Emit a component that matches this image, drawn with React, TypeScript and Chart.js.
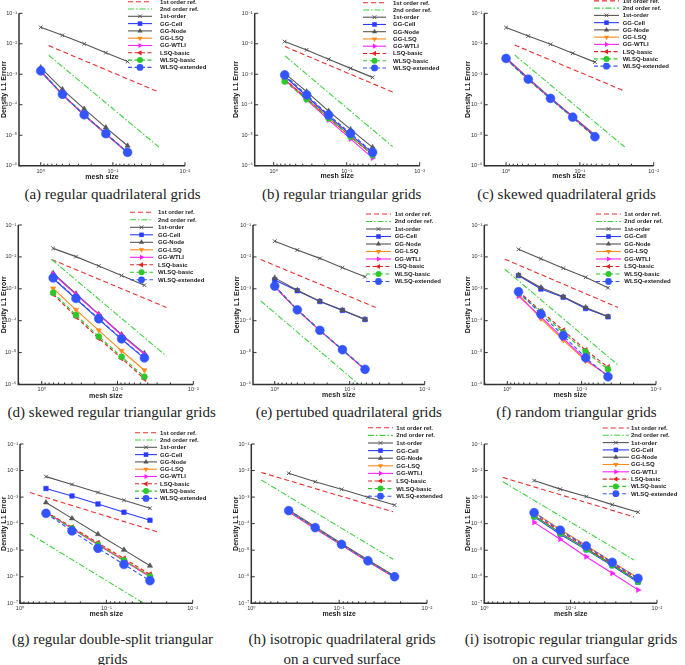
import React, { useEffect, useRef } from 'react';
import { Chart, registerables } from 'chart.js';

Chart.register(...registerables);

// ---------------- data ----------------
const seriesLabels = ['1st order ref.', '2nd order ref.', '1st-order', 'GG-Cell', 'GG-Node', 'GG-LSQ', 'GG-WTLI', 'LSQ-basic', 'WLSQ-basic', 'WLSQ-extended'];

const xQuad = [1, 0.5, 0.25, 0.125, 0.0625];
const xTri = [0.7071, 0.3536, 0.1768, 0.0884, 0.0442];
const xDouble = [0.5, 0.25, 0.125, 0.0625, 0.03125];
const xCurvedQuad = [0.375, 0.1875, 0.094, 0.047, 0.0234];
const xCurvedTri = [0.265, 0.132, 0.066, 0.033, 0.0166];

// (a)
const aRef1X = [0.775, 0.023]; const aRef1Y = [8.7e-3, 2.6e-4];
const aRef2X = [0.775, 0.023]; const aRef2Y = [4.2e-3, 4.1e-6];
const aFirstOrder = [3.46e-2, 1.9e-2, 1.0e-2, 5.1e-3, 2.6e-3];
const aGgCell = [1.29e-3, 2.2e-4, 4.7e-5, 1.12e-5, 2.75e-6];
const aGgNode = [1.66e-3, 3.2e-4, 7.3e-5, 1.78e-5, 4.5e-6];
const aGgLsq = [1.25e-3, 2.15e-4, 4.6e-5, 1.1e-5, 2.7e-6];
const aGgWtli = [1.22e-3, 2.1e-4, 4.5e-5, 1.08e-5, 2.65e-6];
const aLsqBasic = [1.25e-3, 2.15e-4, 4.6e-5, 1.1e-5, 2.7e-6];
const aWlsqBasic = [1.27e-3, 2.18e-4, 4.65e-5, 1.11e-5, 2.72e-6];
const aWlsqExt = [1.29e-3, 2.2e-4, 4.7e-5, 1.12e-5, 2.75e-6];

// (b)
const bRef1X = [0.70, 0.0234]; const bRef1Y = [8.1e-3, 2.6e-4];
const bRef2X = [0.70, 0.0234]; const bRef2Y = [4.0e-3, 4.2e-6];
const bFirstOrder = [1.18e-2, 6.3e-3, 3.1e-3, 1.56e-3, 7.9e-4];
const bGgCell = [8.6e-4, 1.9e-4, 4.2e-5, 1.05e-5, 2.6e-6];
const bGgNode = [1.07e-3, 2.7e-4, 6.2e-5, 1.55e-5, 4.0e-6];
const bGgLsq = [6.8e-4, 1.6e-4, 3.8e-5, 9.2e-6, 2.3e-6];
const bGgWtli = [6.5e-4, 1.45e-4, 3.2e-5, 7.6e-6, 1.8e-6];
const bLsqBasic = [7.0e-4, 1.6e-4, 3.7e-5, 9.0e-6, 2.3e-6];
const bWlsqBasic = [5.8e-4, 1.5e-4, 3.6e-5, 8.9e-6, 2.2e-6];
const bWlsqExt = [9.5e-4, 2.1e-4, 4.6e-5, 1.15e-5, 2.75e-6];

// (c)
const cRef1X = [0.764, 0.0247]; const cRef1Y = [9.1e-3, 2.8e-4];
const cRef2X = [0.764, 0.0247]; const cRef2Y = [4.3e-3, 4.1e-6];
const cFirstOrder = [3.4e-2, 1.8e-2, 9.6e-3, 4.9e-3, 2.5e-3];
const cGgCell = [3.3e-3, 6.9e-4, 1.62e-4, 3.9e-5, 9.2e-6];
const cGgNode = [3.5e-3, 7.4e-4, 1.7e-4, 4.1e-5, 1.02e-5];
const cGgLsq = [3.25e-3, 6.8e-4, 1.6e-4, 3.85e-5, 9.0e-6];
const cGgWtli = [3.4e-3, 7.1e-4, 1.65e-4, 4.0e-5, 9.5e-6];
const cLsqBasic = [3.2e-3, 6.7e-4, 1.58e-4, 3.8e-5, 8.9e-6];
const cWlsqBasic = [3.1e-3, 6.6e-4, 1.55e-4, 3.75e-5, 8.8e-6];
const cWlsqExt = [3.3e-3, 6.9e-4, 1.62e-4, 3.9e-5, 8.9e-6];

// (d)
const dRef1X = [0.74, 0.0226]; const dRef1Y = [8.3e-3, 2.6e-4];
const dRef2X = [0.74, 0.0226]; const dRef2Y = [8.3e-3, 7.7e-6];
const dFirstOrder = [1.85e-2, 1.02e-2, 5.2e-3, 2.6e-3, 1.3e-3];
const dGgCell = [2.1e-3, 4.8e-4, 1.1e-4, 2.6e-5, 6.6e-6];
const dGgNode = [3.1e-3, 7.0e-4, 1.6e-4, 3.7e-5, 9.5e-6];
const dGgLsq = [1.03e-3, 2.2e-4, 5.0e-5, 1.14e-5, 2.8e-6];
const dGgWtli = [2.9e-3, 6.6e-4, 1.55e-4, 3.5e-5, 8.8e-6];
const dLsqBasic = [6.8e-4, 1.32e-4, 2.8e-5, 6.6e-6, 1.5e-6];
const dWlsqBasic = [7.5e-4, 1.5e-4, 3.2e-5, 7.4e-6, 1.75e-6];
const dWlsqExt = [2.2e-3, 5.0e-4, 1.15e-4, 2.7e-5, 6.8e-6];

// (e)
const eRef1X = [1.54, 0.045]; const eRef1Y = [8.3e-3, 2.6e-4];
const eRef2X = [1.54, 0.0736]; const eRef2Y = [4.2e-4, 9.5e-7];
const eFirstOrder = [3.1e-2, 1.65e-2, 9.0e-3, 4.6e-3, 2.4e-3];
const eGgCell = [1.9e-3, 8.7e-4, 4.0e-4, 2.1e-4, 1.09e-4];
const eGgNode = [2.2e-3, 9.0e-4, 4.1e-4, 2.15e-4, 1.1e-4];
const eGgLsq = [1.2e-3, 2.2e-4, 5.0e-5, 1.22e-5, 3.0e-6];
const eGgWtli = [1.15e-3, 2.15e-4, 4.9e-5, 1.2e-5, 2.95e-6];
const eLsqBasic = [1.2e-3, 2.2e-4, 5.0e-5, 1.22e-5, 3.0e-6];
const eWlsqBasic = [1.18e-3, 2.18e-4, 4.95e-5, 1.21e-5, 2.98e-6];
const eWlsqExt = [1.22e-3, 2.2e-4, 5.0e-5, 1.23e-5, 3.0e-6];

// (f)
const fRef1X = [1.08, 0.0325]; const fRef1Y = [8.5e-3, 2.6e-4];
const fRef2X = [1.08, 0.0325]; const fRef2Y = [4.1e-3, 4.1e-6];
const fFirstOrder = [1.73e-2, 8.8e-3, 4.4e-3, 2.3e-3, 1.08e-3];
const fGgCell = [2.6e-3, 9.8e-4, 5.4e-4, 2.4e-4, 1.32e-4];
const fGgNode = [2.7e-3, 1.1e-3, 5.6e-4, 2.6e-4, 1.35e-4];
const fGgLsq = [6.8e-4, 1.17e-4, 2.45e-5, 5.5e-6, 1.95e-6];
const fGgWtli = [5.9e-4, 1.32e-4, 2.8e-5, 6.0e-6, 1.9e-6];
const fLsqBasic = [8.5e-4, 2.0e-4, 5.0e-5, 1.2e-5, 3.5e-6];
const fWlsqBasic = [7.2e-4, 1.9e-4, 4.2e-5, 1.07e-5, 3.0e-6];
const fWlsqExt = [8.1e-4, 1.62e-4, 3.4e-5, 6.9e-6, 1.75e-6];

// (g)
const gRef1X = [0.766, 0.024]; const gRef1Y = [1.48e-3, 4.6e-5];
const gRef2X = [0.766, 0.037]; const gRef2Y = [4.1e-5, 1.0e-7];
const gFirstOrder = [5.9e-3, 3.0e-3, 1.5e-3, 7.6e-4, 3.8e-4];
const gGgCell = [2.1e-3, 1.1e-3, 5.5e-4, 2.7e-4, 1.35e-4];
const gGgNode = [6.3e-4, 1.58e-4, 4.0e-5, 1.03e-5, 2.6e-6];
const gGgLsq = [2.65e-4, 6.8e-5, 1.7e-5, 4.3e-6, 1.1e-6];
const gGgWtli = [2.7e-4, 6.5e-5, 1.6e-5, 4.0e-6, 1.0e-6];
const gLsqBasic = [2.8e-4, 7.3e-5, 1.9e-5, 4.9e-6, 1.23e-6];
const gWlsqBasic = [2.6e-4, 6.6e-5, 1.58e-5, 4.1e-6, 1.02e-6];
const gWlsqExt = [2.45e-4, 5.3e-5, 1.18e-5, 2.9e-6, 7.1e-7];

// (h)
const hRef1X = [0.77, 0.0243]; const hRef1Y = [8.5e-3, 2.8e-4];
const hRef2X = [0.77, 0.0243]; const hRef2Y = [4.4e-3, 4.6e-6];
const hFirstOrder = [7.9e-3, 3.8e-3, 1.96e-3, 9.8e-4, 5.0e-4];
const hGgCell = [3.1e-4, 7.1e-5, 1.66e-5, 4.0e-6, 1.0e-6];
const hGgNode = [3.3e-4, 7.6e-5, 1.8e-5, 4.3e-6, 1.08e-6];
const hGgLsq = [3.0e-4, 7.0e-5, 1.65e-5, 3.95e-6, 9.9e-7];
const hGgWtli = [2.75e-4, 6.4e-5, 1.52e-5, 3.7e-6, 9.3e-7];
const hLsqBasic = [3.0e-4, 6.9e-5, 1.63e-5, 3.9e-6, 9.8e-7];
const hWlsqBasic = [2.95e-4, 6.8e-5, 1.6e-5, 3.85e-6, 9.6e-7];
const hWlsqExt = [3.1e-4, 7.1e-5, 1.66e-5, 4.0e-6, 1.0e-6];

// (i)
const iRef1X = [0.61, 0.0185]; const iRef1Y = [5.5e-3, 1.8e-4];
const iRef2X = [0.61, 0.0185]; const iRef2Y = [3.8e-3, 4.3e-6];
const iFirstOrder = [4.2e-3, 2.0e-3, 1.05e-3, 5.2e-4, 2.7e-4];
const iGgCell = [1.8e-4, 4.0e-5, 1.03e-5, 2.6e-6, 6.2e-7];
const iGgNode = [2.0e-4, 4.6e-5, 1.15e-5, 2.9e-6, 7.0e-7];
const iGgLsq = [2.7e-4, 6.0e-5, 1.5e-5, 3.6e-6, 9.2e-7];
const iGgWtli = [1.12e-4, 2.6e-5, 5.7e-6, 1.35e-6, 3.2e-7];
const iLsqBasic = [2.2e-4, 5.3e-5, 1.3e-5, 3.2e-6, 8.0e-7];
const iWlsqBasic = [1.85e-4, 4.3e-5, 1.07e-5, 2.7e-6, 6.5e-7];
const iWlsqExt = [2.6e-4, 5.7e-5, 1.44e-5, 3.5e-6, 8.7e-7];

const captions = [
  ['(a) regular quadrilateral grids'],
  ['(b) regular triangular grids'],
  ['(c) skewed quadrilateral grids'],
  ['(d) skewed regular triangular grids'],
  ['(e) pertubed quadrilateral grids'],
  ['(f) random triangular grids'],
  ['(g) regular double-split triangular', 'grids'],
  ['(h) isotropic quadrilateral grids', 'on a curved surface'],
  ['(i) isotropic regular triangular grids', 'on a curved surface'],
];

// ---------------- styles ----------------
const FONT = "'Liberation Sans', 'DejaVu Sans', Arial, sans-serif";
const AXIS = '#333333';

const STYLES = [
  { color: '#e8302e', dash: [5, 3], width: 1.1, point: 'circle', r: 0, rot: 0 },
  { color: '#3fd23f', dash: [6, 2, 1.5, 2], width: 1.1, point: 'circle', r: 0, rot: 0 },
  { color: '#555555', dash: [], width: 1.1, point: 'crossRot', r: 2.6, rot: 0 },
  { color: '#2b3cff', dash: [], width: 1.1, point: 'rect', r: 3.2, rot: 0 },
  { color: '#555555', dash: [], width: 1.1, point: 'triangle', r: 3.0, rot: 0 },
  { color: '#ff8a1c', dash: [], width: 1.1, point: 'triangle', r: 3.0, rot: 180 },
  { color: '#ff22ff', dash: [], width: 1.1, point: 'triangle', r: 3.0, rot: 90 },
  { color: '#e02424', dash: [4, 2.5], width: 1.1, point: 'triangle', r: 3.0, rot: 270 },
  { color: '#2ec82e', dash: [4, 2.5], width: 1.1, point: 'circle', r: 3.0, rot: 0 },
  { color: '#3355ff', dash: [4, 2.5], width: 1.1, point: 'circle', r: 4.4, rot: 0 },
];

type Panel = {
  cx: number; cy: number; axisL: number; axisR: number; top: number; bottom: number;
  titleX: number; xTitleY: number; xMin: number; xMax: number; yMin: number; yMax: number;
  yTitle: string; xs: number[]; refs: number[][]; series: number[][];
  legend: { x0: number; x1: number; tx: number; y0: number; dy: number };
  cap: { x: number; y: number; lines: string[] };
};

const PANELS: Panel[] = [
  { cx: 0, cy: -4, axisL: 19, axisR: 185, top: 13.3, bottom: 165.7, titleX: 4.5, xTitleY: 176.7, xMin: 0.01, xMax: 2.0, yMin: 1e-6, yMax: 1e-1, yTitle: 'Density L1 Errorr',
    xs: xQuad, refs: [aRef1X, aRef1Y, aRef2X, aRef2Y], series: [aFirstOrder, aGgCell, aGgNode, aGgLsq, aGgWtli, aLsqBasic, aWlsqBasic, aWlsqExt],
    legend: { x0: 128, x1: 152, tx: 160, y0: 1.7, dy: 7.3 }, cap: { x: 112.5, y: 194, lines: captions[0] } },
  { cx: 228, cy: -4, axisL: 254.7, axisR: 419.7, top: 13.3, bottom: 165.7, titleX: 236.3, xTitleY: 176.5, xMin: 0.01, xMax: 1.82, yMin: 1e-6, yMax: 1e-1, yTitle: 'Density L1 Errorr',
    xs: xTri, refs: [bRef1X, bRef1Y, bRef2X, bRef2Y], series: [bFirstOrder, bGgCell, bGgNode, bGgLsq, bGgWtli, bLsqBasic, bWlsqBasic, bWlsqExt],
    legend: { x0: 363, x1: 386, tx: 393, y0: 2.7, dy: 7.25 }, cap: { x: 341.7, y: 194, lines: captions[1] } },
  { cx: 456, cy: -4, axisL: 484.3, axisR: 653.7, top: 13.3, bottom: 165.7, titleX: 467.7, xTitleY: 176.5, xMin: 0.01, xMax: 1.97, yMin: 1e-6, yMax: 1e-1, yTitle: 'Density L1 Errorr',
    xs: xQuad, refs: [cRef1X, cRef1Y, cRef2X, cRef2Y], series: [cFirstOrder, cGgCell, cGgNode, cGgLsq, cGgWtli, cLsqBasic, cWlsqBasic, cWlsqExt],
    legend: { x0: 594, x1: 619, tx: 622.7, y0: 0.9, dy: 7.25 }, cap: { x: 566.5, y: 194, lines: captions[2] } },
  { cx: 0, cy: 205, axisL: 18.3, axisR: 193.3, top: 225, bottom: 384.5, titleX: 3.6, xTitleY: 396, xMin: 0.01, xMax: 2.04, yMin: 1e-6, yMax: 1e-1, yTitle: 'Density L1 Errorr',
    xs: xTri, refs: [dRef1X, dRef1Y, dRef2X, dRef2Y], series: [dFirstOrder, dGgCell, dGgNode, dGgLsq, dGgWtli, dLsqBasic, dWlsqBasic, dWlsqExt],
    legend: { x0: 130, x1: 153, tx: 158, y0: 212.3, dy: 7.5 }, cap: { x: 111.7, y: 411.7, lines: captions[3] } },
  { cx: 228, cy: 205, axisL: 253, axisR: 424.7, top: 225, bottom: 384.5, titleX: 237.3, xTitleY: 395.5, xMin: 0.01, xMax: 1.95, yMin: 1e-6, yMax: 1e-1, yTitle: 'Density L1 Errorr',
    xs: xQuad, refs: [eRef1X, eRef1Y, eRef2X, eRef2Y], series: [eFirstOrder, eGgCell, eGgNode, eGgLsq, eGgWtli, eLsqBasic, eWlsqBasic, eWlsqExt],
    legend: { x0: 366, x1: 391, tx: 394.7, y0: 214, dy: 7.5 }, cap: { x: 348.8, y: 411.7, lines: captions[4] } },
  { cx: 456, cy: 205, axisL: 484.3, axisR: 656, top: 225, bottom: 384.5, titleX: 467.7, xTitleY: 395, xMin: 0.01, xMax: 2.04, yMin: 1e-6, yMax: 1e-1, yTitle: 'Density L1 Errorr',
    xs: xTri, refs: [fRef1X, fRef1Y, fRef2X, fRef2Y], series: [fFirstOrder, fGgCell, fGgNode, fGgLsq, fGgWtli, fLsqBasic, fWlsqBasic, fWlsqExt],
    legend: { x0: 596, x1: 621, tx: 624.3, y0: 214, dy: 7.5 }, cap: { x: 576.5, y: 411.7, lines: captions[5] } },
  { cx: 0, cy: 418, axisL: 20, axisR: 192.7, top: 444, bottom: 603.3, titleX: 3.6, xTitleY: 614, xMin: 0.01, xMax: 1, yMin: 1e-7, yMax: 1e-1, yTitle: 'Density L1 Error',
    xs: xDouble, refs: [gRef1X, gRef1Y, gRef2X, gRef2Y], series: [gFirstOrder, gGgCell, gGgNode, gGgLsq, gGgWtli, gLsqBasic, gWlsqBasic, gWlsqExt],
    legend: { x0: 135, x1: 157, tx: 160, y0: 432.7, dy: 7.3 }, cap: { x: 112.5, y: 639, lines: captions[6] } },
  { cx: 228, cy: 418, axisL: 251.3, axisR: 427, top: 444, bottom: 603.3, titleX: 236.3, xTitleY: 614, xMin: 0.01, xMax: 1, yMin: 1e-7, yMax: 1e-1, yTitle: 'Density L1 Error',
    xs: xCurvedQuad, refs: [hRef1X, hRef1Y, hRef2X, hRef2Y], series: [hFirstOrder, hGgCell, hGgNode, hGgLsq, hGgWtli, hLsqBasic, hWlsqBasic, hWlsqExt],
    legend: { x0: 368, x1: 393, tx: 396.3, y0: 427.8, dy: 7.6 }, cap: { x: 342, y: 639, lines: captions[7] } },
  { cx: 456, cy: 418, axisL: 484.3, axisR: 657, top: 444, bottom: 603.3, titleX: 467.7, xTitleY: 614, xMin: 0.01, xMax: 1, yMin: 1e-7, yMax: 1e-1, yTitle: 'Density L1 Error',
    xs: xCurvedTri, refs: [iRef1X, iRef1Y, iRef2X, iRef2Y], series: [iFirstOrder, iGgCell, iGgNode, iGgLsq, iGgWtli, iLsqBasic, iWlsqBasic, iWlsqExt],
    legend: { x0: 602.7, x1: 629, tx: 631, y0: 428, dy: 7.3 }, cap: { x: 571, y: 639, lines: captions[8] } },
];

// ---------------- helpers ----------------
const SUP: Record<string, string> = { '0': '⁰', '1': '¹', '2': '²', '3': '³', '4': '⁴', '5': '⁵', '6': '⁶', '7': '⁷', '8': '⁸', '9': '⁹', '-': '⁻' };
function decadeLabel(v: any) {
  const n = Number(v);
  const l = Math.log10(n);
  if (Math.abs(l - Math.round(l)) > 1e-6) return '';
  return '10' + String(Math.round(l)).split('').map((c) => SUP[c] || c).join('');
}

function drawMarker(ctx: CanvasRenderingContext2D, style: string, x: number, y: number, r: number, rotDeg: number) {
  const rad = (rotDeg * Math.PI) / 180;
  ctx.beginPath();
  if (style === 'circle') {
    ctx.arc(x, y, r, 0, Math.PI * 2);
    ctx.fill();
  } else if (style === 'rect') {
    const s = Math.SQRT1_2 * r;
    ctx.rect(x - s, y - s, 2 * s, 2 * s);
    ctx.fill();
  } else if (style === 'triangle') {
    for (let k = 0; k < 3; k++) {
      const a = rad + (k * 2 * Math.PI) / 3;
      const px = x + Math.sin(a) * r;
      const py = y - Math.cos(a) * r;
      if (k === 0) ctx.moveTo(px, py); else ctx.lineTo(px, py);
    }
    ctx.closePath();
    ctx.fill();
  } else if (style === 'crossRot') {
    const o = r * Math.SQRT1_2;
    ctx.moveTo(x - o, y - o); ctx.lineTo(x + o, y + o);
    ctx.moveTo(x - o, y + o); ctx.lineTo(x + o, y - o);
    ctx.stroke();
  }
}

const legendPlugin = {
  id: 'paperLegend',
  afterDraw(chart: any, _args: any, opts: any) {
    const { ctx } = chart;
    const datasets = chart.data.datasets;
    ctx.save();
    datasets.forEach((ds: any, i: number) => {
      const st = STYLES[i];
      const y = opts.y0 + i * opts.dy - opts.cy;
      const x0 = opts.x0 - opts.cx;
      const x1 = opts.x1 - opts.cx;
      ctx.strokeStyle = ds.borderColor;
      ctx.lineWidth = ds.borderWidth;
      ctx.setLineDash(ds.borderDash || []);
      ctx.beginPath();
      ctx.moveTo(x0, y);
      ctx.lineTo(x1, y);
      ctx.stroke();
      ctx.setLineDash([]);
      if (st.r > 0) {
        ctx.fillStyle = st.color;
        ctx.strokeStyle = st.color;
        ctx.lineWidth = 1;
        drawMarker(ctx, st.point, (x0 + x1) / 2, y, Math.min(st.r, 3.4), st.rot);
      }
      ctx.fillStyle = '#222';
      ctx.font = `bold 6px ${FONT}`;
      ctx.textBaseline = 'middle';
      ctx.textAlign = 'left';
      ctx.fillText(ds.label, opts.tx - opts.cx, y + 0.3);
    });
    ctx.restore();
  },
};

// axis lines and inward tick marks (Tecplot style)
const axesPlugin = {
  id: 'paperAxes',
  afterDatasetsDraw(chart: any) {
    const { ctx, chartArea } = chart;
    const xs = chart.scales.x;
    const ys = chart.scales.y;
    ctx.save();
    ctx.strokeStyle = AXIS;
    ctx.setLineDash([]);
    ctx.lineWidth = 1.5;
    ctx.beginPath();
    ctx.moveTo(chartArea.left, chartArea.top);
    ctx.lineTo(chartArea.left, chartArea.bottom);
    ctx.lineTo(chartArea.right, chartArea.bottom);
    ctx.stroke();
    ctx.lineWidth = 1;
    const xt: any[] = xs.ticks || [];
    xt.forEach((t: any) => {
      const v = t.value;
      const e = Math.floor(Math.log10(v) + 1e-9);
      const m = v / Math.pow(10, e);
      const mr = Math.round(m);
      if (Math.abs(m - mr) > 1e-6 || mr < 1 || mr > 9) return;
      const px = xs.getPixelForValue(v);
      if (px < chartArea.left - 0.5 || px > chartArea.right + 0.5) return;
      const len = mr === 1 ? 3.5 : 2;
      ctx.beginPath();
      ctx.moveTo(px, chartArea.bottom);
      ctx.lineTo(px, chartArea.bottom - len);
      ctx.stroke();
    });
    const yt: any[] = ys.ticks || [];
    yt.forEach((t: any) => {
      const l = Math.log10(t.value);
      if (Math.abs(l - Math.round(l)) > 1e-6) return;
      const py = ys.getPixelForValue(t.value);
      if (py < chartArea.top - 0.5 || py > chartArea.bottom + 0.5) return;
      ctx.beginPath();
      ctx.moveTo(chartArea.left, py);
      ctx.lineTo(chartArea.left + 3.5, py);
      ctx.stroke();
    });
    ctx.restore();
  },
};

function geometry(p: Panel) {
  const cw = p.cx === 456 ? 229 : 228;
  const xH = p.xTitleY + 3.5 - p.bottom;
  const chF = p.bottom - p.cy + xH;
  const ch = Math.ceil(chF);
  return {
    cw, ch, xH,
    padTop: p.top - p.cy,
    padLeft: p.titleX - 3.5 - p.cx,
    padRight: p.cx + cw - p.axisR,
    padBottom: ch - chF,
    yW: p.axisL - p.titleX + 3.5,
  };
}

function buildDatasets(p: Panel) {
  const pts = (xs: number[], ys: number[]) => xs.map((x, k) => ({ x, y: ys[k] }));
  const all = [pts(p.refs[0], p.refs[1]), pts(p.refs[2], p.refs[3]), ...p.series.map((s) => pts(p.xs, s))];
  return all.map((data, i) => {
    const st = STYLES[i];
    return {
      label: seriesLabels[i],
      data,
      borderColor: st.color,
      backgroundColor: st.color,
      borderWidth: st.width,
      borderDash: st.dash,
      pointStyle: st.point,
      pointRadius: st.r,
      pointRotation: st.rot,
      pointBackgroundColor: st.color,
      pointBorderColor: st.color,
      pointBorderWidth: st.point === 'crossRot' ? 1 : 0.6,
      pointHoverRadius: st.r,
      tension: 0,
      fill: false,
      order: 10 - i,
    };
  });
}

function PanelChart({ p }: { p: Panel }) {
  const ref = useRef<HTMLCanvasElement | null>(null);
  const g = geometry(p);
  useEffect(() => {
    if (!ref.current) return;
    const tickFont = { size: 5.5, family: FONT };
    const titleFont = { size: 7, weight: 'bold' as const, family: FONT, lineHeight: 1 };
    const chart = new Chart(ref.current, {
      type: 'line',
      data: { datasets: buildDatasets(p) as any },
      options: {
        animation: false,
        responsive: false,
        devicePixelRatio: 1,
        events: [],
        layout: { padding: { top: g.padTop, left: g.padLeft, right: g.padRight, bottom: g.padBottom }, autoPadding: false },
        plugins: {
          legend: { display: false },
          tooltip: { enabled: false },
          title: { display: false },
          paperLegend: { ...p.legend, cx: p.cx, cy: p.cy },
        } as any,
        scales: {
          x: {
            type: 'logarithmic',
            reverse: true,
            min: p.xMin,
            max: p.xMax,
            grid: { display: false, drawTicks: false },
            border: { display: false },
            ticks: { autoSkip: false, maxRotation: 0, minRotation: 0, padding: 2, font: tickFont, color: '#333', callback: decadeLabel },
            title: { display: true, text: 'mesh size', font: titleFont, color: '#222', padding: 0 },
            afterFit: (s: any) => { s.height = g.xH; },
          },
          y: {
            type: 'logarithmic',
            min: p.yMin,
            max: p.yMax,
            grid: { display: false, drawTicks: false },
            border: { display: false },
            ticks: { autoSkip: false, padding: 2, font: tickFont, color: '#333', callback: decadeLabel },
            title: { display: true, text: p.yTitle, font: titleFont, color: '#222', padding: 0 },
            afterFit: (s: any) => { s.width = g.yW; },
          },
        } as any,
      },
      plugins: [axesPlugin, legendPlugin],
    });
    return () => chart.destroy();
  }, []);
  return (
    <canvas
      ref={ref}
      width={g.cw}
      height={g.ch}
      style={{ position: 'absolute', left: p.cx, top: p.cy, width: g.cw, height: g.ch }}
    />
  );
}

export default function App() {
  return (
    <div style={{ position: 'absolute', left: 0, top: 0, width: 685, height: 665, overflow: 'hidden', background: '#fff' }}>
      {PANELS.map((p, i) => (
        <div key={'cap' + i} style={{ position: 'absolute', left: p.cap.x, top: p.cap.y - 10, transform: 'translateX(-50%)', textAlign: 'center', whiteSpace: 'nowrap', fontFamily: "'Liberation Serif', 'DejaVu Serif', serif", fontSize: 15, lineHeight: '20px', color: '#222' }}>
          {p.cap.lines.map((l, k) => <div key={k}>{l}</div>)}
        </div>
      ))}
      {PANELS.map((p, i) => <PanelChart key={i} p={p} />)}
    </div>
  );
}
